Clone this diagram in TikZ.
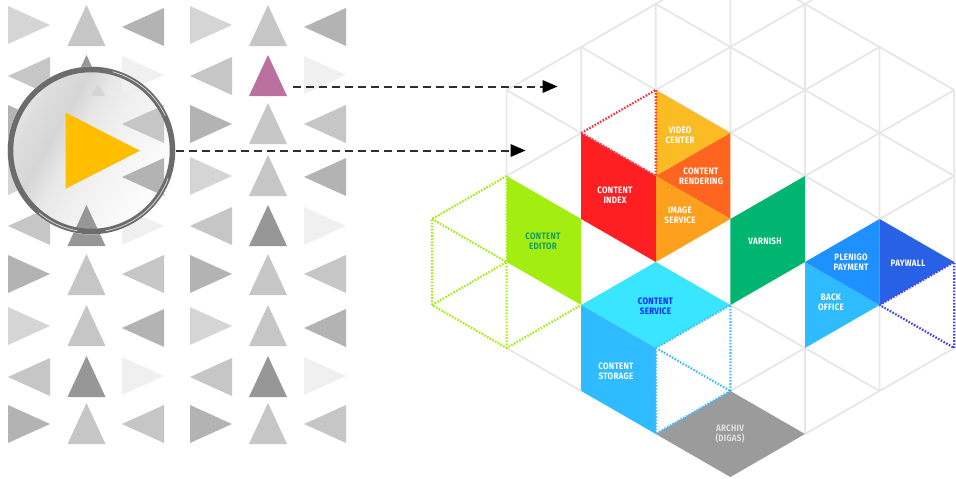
\documentclass[tikz,border=0pt]{standalone}
\usepackage{fontspec}
\usetikzlibrary{arrows.meta}
\newfontfamily\lab[FakeStretch=0.86,LetterSpace=3]{Fira Sans}
\definecolor{tA}{HTML}{D5D5D5}
\definecolor{tB}{HTML}{C6C6C6}
\definecolor{tC}{HTML}{B3B3B3}
\definecolor{tD}{HTML}{979797}
\definecolor{tE}{HTML}{F0F0F0}
\definecolor{tP}{HTML}{BB719E}
\definecolor{gridc}{HTML}{E6E6E6}
\definecolor{video}{HTML}{FBBB22}
\definecolor{render}{HTML}{FE651E}
\definecolor{image}{HTML}{FCA01E}
\definecolor{cindex}{HTML}{FE1F22}
\definecolor{editor}{HTML}{A3EE10}
\definecolor{editortxt}{HTML}{0E9E6B}
\definecolor{varnish}{HTML}{00B56F}
\definecolor{service}{HTML}{3AE5FF}
\definecolor{servicetxt}{HTML}{0A28FF}
\definecolor{storage}{HTML}{2FBBFF}
\definecolor{archiv}{HTML}{9B9B9B}
\definecolor{plenigo}{HTML}{1E90FF}
\definecolor{paywall}{HTML}{2860E6}
\definecolor{dotpurple}{HTML}{4444EE}
\definecolor{dotcyan}{HTML}{40BEFF}
\definecolor{dotred}{HTML}{FE3040}
\definecolor{ringc}{HTML}{6C6C6C}
\definecolor{playc}{HTML}{FFBE00}
\pgfdeclarehorizontalshading{lensshade}{100bp}{
 color(0bp)=(white!92!black);
 color(5bp)=(white!97!black);
 color(12bp)=(white!94!black);
 color(18bp)=(white!88!black);
 color(22bp)=(white!96!black);
 color(25bp)=(white!91!black);
 color(29bp)=(white!87!black);
 color(38bp)=(white!84!black);
 color(45bp)=(white!91!black);
 color(53bp)=(white!94!black);
 color(60bp)=(white!96!black);
 color(72bp)=(white!99!black);
 color(80bp)=(white);
 color(100bp)=(white)}
\newcommand\triR[3]{\fill[#3] (#1,#2) -- ++(42,19) -- ++(-42,19) -- cycle;}
\newcommand\triL[3]{\fill[#3] (#1+42,#2) -- ++(-42,19) -- ++(42,19) -- cycle;}
\newcommand\triU[3]{\fill[#3] (#1+19,#2) -- ++(19,41) -- ++(-38,0) -- cycle;}
\tikzset{
 x=1pt,y=-1pt,
 gridline/.style={draw=gridc,line width=1.7pt},
 dotline/.style={line width=2.2pt,dash pattern=on 1.6pt off 1.5pt},
 lbl/.style={text=white,align=center,inner sep=0pt,font=\lab\bfseries\fontsize{9.3}{10}\selectfont},
 flow/.style={draw=black!82,line width=2pt,dash pattern=on 8pt off 5pt,-{Triangle[length=15pt,width=12.5pt,black]}},
 ringshine/.style={white,line width=.8pt,opacity=.7},
}
\begin{document}
\begin{tikzpicture}
\clip (0,0) rectangle (956,479);
\fill[white] (0,0) rectangle (956,479);
% triangle field
\triR{8}{6}{tA}\triU{67.5}{5}{tB}\triL{122}{8}{tC}\triR{190}{6}{tA}\triU{249}{5}{tB}\triL{304}{8}{tC}
\triL{8}{57}{tB}\triU{67.5}{55}{tD}\triR{122}{56}{tE}\triL{190}{57}{tB}\triU{249}{55}{tP}\triR{304}{56}{tE}
\triR{8}{105}{tC}\triU{67.5}{103}{tB}\triL{122}{105}{tB}\triR{190}{105}{tC}\triU{249}{103}{tB}\triL{304}{105}{tB}
\triR{8}{157}{tA}\triU{67.5}{155}{tB}\triL{122}{158}{tC}\triR{190}{157}{tA}\triU{249}{155}{tB}\triL{304}{158}{tC}
\triL{8}{207}{tB}\triU{67.5}{205}{tD}\triR{122}{207}{tE}\triL{190}{207}{tB}\triU{249}{205}{tD}\triR{304}{207}{tE}
\triR{8}{255}{tC}\triU{67.5}{254}{tB}\triL{122}{255}{tB}\triR{190}{255}{tC}\triU{249}{254}{tB}\triL{304}{255}{tB}
\triR{8}{307}{tA}\triU{67.5}{305}{tB}\triL{122}{309}{tC}\triR{190}{307}{tA}\triU{249}{305}{tB}\triL{304}{309}{tC}
\triL{8}{358}{tB}\triU{67.5}{356}{tD}\triR{122}{357}{tE}\triL{190}{358}{tB}\triU{249}{356}{tD}\triR{304}{357}{tE}
\triR{8}{405}{tC}\triU{67.5}{403}{tB}\triL{122}{405}{tB}\triR{190}{405}{tC}\triU{249}{403}{tB}\triL{304}{405}{tB}
% lens
\node[circle,minimum size=168pt,inner sep=0pt,outer sep=0pt,shading=lensshade,shading angle=-30] (lens) at (91.5,150.5) {};
\begin{scope}
\clip (91.5,150.5) circle (80);
\triL{122}{105}{tB}
\triL{122}{158}{tC}
\triU{67.5}{205}{tD}
\triR{122}{56}{tE}
\fill[tA] (98,84) -- (105,96) -- (91,96) -- cycle;
\end{scope}
\fill[playc] (65.7,112.7) -- (140,150.7) -- (65.7,188.7) -- cycle;
\draw[ringc,line width=5.5pt] (lens.center) circle (81);
\draw[ringshine] plot[domain=20:80,samples=30] ({91.5+81.5*cos(\x)},{150.5+81.5*sin(\x)});
\draw[ringshine] plot[domain=-75:-25,samples=30] ({91.5+81.5*cos(\x)},{150.5+81.5*sin(\x)});
\draw[ringshine] plot[domain=100:130,samples=20] ({91.5+81.5*cos(\x)},{150.5+81.5*sin(\x)});
% isometric grid: inside this scope (i,j) is a lattice vertex
\begin{scope}[shift={(506.6,176)},x=74.6pt,y=-43pt]
\draw[gridline]
 (0,-2)--(0,0) (1,-3)--(1,-1) (2,-4)--(2,-2) (3,-5)--(3,-1) (4,-4)--(4,0) (5,-3)--(5,1) (6,-2)--(6,2)
 (4,4)--(4,6) (5,3)--(5,5)
 (0,-2)--(3,-5) (0,0)--(1,-1) (2,-2)--(5,-5) (3,-1)--(5,-3) (4,0)--(6,-2) (5,1)--(6,0)
 (3,5)--(4,4) (4,6)--(6,4)
 (0,-2)--(1,-1) (1,-3)--(5,1) (2,-4)--(6,0) (3,-5)--(6,-2)
 (3,3)--(5,5) (0,4)--(1,5);
\fill[video] (2,-2)--(3,-1)--(2,0)--cycle;
\fill[render] (3,-1)--(3,1)--(2,0)--cycle;
\fill[image] (2,0)--(3,1)--(2,2)--cycle;
\fill[cindex] (1,-1)--(2,0)--(2,2)--(1,1)--cycle;
\fill[editor] (0,0)--(1,1)--(1,3)--(0,2)--cycle;
\fill[varnish] (3,1)--(4,0)--(4,2)--(3,3)--cycle;
\fill[service] (1,3)--(2,2)--(3,3)--(2,4)--cycle;
\fill[storage] (1,3)--(2,4)--(2,6)--(1,5)--cycle;
\fill[archiv] (3,5)--(4,6)--(3,7)--(2,6)--cycle;
\fill[storage] (4,2)--(5,3)--(4,4)--cycle;
\fill[plenigo] (4,2)--(5,1)--(5,3)--cycle;
\fill[paywall] (5,1)--(6,2)--(5,3)--cycle;
\draw[dotline,dotred] (1,-1)--(2,-2) (2,-2)--(2,0) (1,-1)--(2,0);
\draw[dotline,editor] (0,0)--(-1,1)--(-1,3)--(0,4)--(1,3) (-1,1)--(0,2) (-1,3)--(0,2) (0,0)--(0,4);
\draw[dotline,dotcyan] (2,4)--(3,3)--(3,5) (2,4)--(3,5) (2,4)--(2,6)--(3,5);
\draw[dotline,dotpurple] (5,3)--(6,2)--(6,4)--(5,3);
\end{scope}
% labels
\node[lbl] (nvideo) at (680,135) {VIDEO\\CENTER};
\node[lbl] (nrender) at (701,176) {CONTENT\\RENDERING};
\node[lbl] (nimage) at (680,215.5) {IMAGE\\SERVICE};
\node[lbl] (nindex) at (615,195.5) {CONTENT\\INDEX};
\node[lbl,text=editortxt] (neditor) at (543,241.5) {CONTENT\\EDITOR};
\node[lbl,text=servicetxt] (nservice) at (655.5,306.5) {CONTENT\\SERVICE};
\node[lbl] (nstorage) at (616,371) {CONTENT\\STORAGE};
\node[lbl,text=white!88!black] (narchiv) at (730,434) {ARCHIV\\(DIGAS)};
\node[lbl] (nvarnish) at (765,241) {VARNISH};
\node[lbl] (nplenigo) at (851,262.5) {PLENIGO\\PAYMENT};
\node[lbl] (npaywall) at (908,263) {PAYWALL};
\node[lbl] (nback) at (831,302) {BACK\\OFFICE};
% connectors
\coordinate (pinkout) at (293,86.5);
\coordinate (gridin) at (557.5,86.5);
\coordinate (lensin) at (525.5,150.5);
\draw[flow] (pinkout) -- (gridin);
\draw[flow] (lens.east) -- (lensin);
\end{tikzpicture}
\end{document}
